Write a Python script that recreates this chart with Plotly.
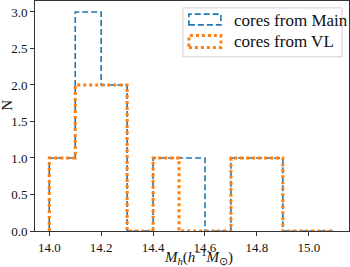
import plotly.graph_objects as go

bin_edges = [14.0, 14.1, 14.2, 14.3, 14.4, 14.5, 14.6, 14.7, 14.8, 14.9, 15.0, 15.1]
counts_main = [1, 3, 2, 0, 1, 1, 0, 1, 1, 0, 0]
counts_vl = [1, 2, 2, 0, 1, 0, 0, 1, 1, 0, 0]
series_names = ["cores from Main", "cores from VL"]
x_ticks = [14.0, 14.2, 14.4, 14.6, 14.8, 15.0]
y_ticks = [0.0, 0.5, 1.0, 1.5, 2.0, 2.5, 3.0]

BLUE = "#1f77b4"
ORANGE = "#ff7f0e"
blue_line = dict(color=BLUE, width=1.6, dash="6px,3px")
orange_line = dict(color=ORANGE, width=3, dash="3px,3px")


def step_xy(edges, counts):
    xs = [edges[0]] + list(edges)
    ys = [0] + list(counts) + [0]
    return xs, ys


fig = go.Figure()
xm, ym = step_xy(bin_edges, counts_main)
xv, yv = step_xy(bin_edges, counts_vl)
fig.add_trace(go.Scatter(x=xm, y=ym, mode="lines", line_shape="hv",
                         line=blue_line, name=series_names[0], showlegend=False))
fig.add_trace(go.Scatter(x=xv, y=yv, mode="lines", line_shape="hv",
                         line=orange_line, name=series_names[1], showlegend=False))

font = "Liberation Serif, Times New Roman, serif"
axis_common = dict(showgrid=False, zeroline=False, showline=True, mirror=True,
                   linecolor="#333", linewidth=1, ticks="outside", ticklen=4,
                   tickcolor="#333", automargin=False,
                   tickfont=dict(family=font, size=13, color="#111"))
fig.update_layout(
    width=350, height=267,
    margin=dict(l=35, r=1, t=1, b=36),
    paper_bgcolor="white", plot_bgcolor="white",
    font=dict(family=font, color="#111"),
    xaxis=dict(range=[13.945, 15.155], tickvals=x_ticks,
               ticktext=[f"{v:.1f}" for v in x_ticks], **axis_common),
    yaxis=dict(range=[0, 3.15], tickvals=y_ticks,
               ticktext=[f"{v:.1f}" for v in y_ticks], **axis_common),
    showlegend=False,
)

# custom legend (matplotlib-style patch outlines)
fig.add_shape(type="rect", xref="paper", yref="paper", x0=0.471, x1=0.978,
              y0=0.757, y1=0.970, line=dict(color="#d0d0d0", width=1),
              fillcolor="white", layer="above")
fig.add_shape(type="rect", xref="paper", yref="paper", x0=0.490, x1=0.592,
              y0=0.896, y1=0.943, line=blue_line, layer="above")
fig.add_shape(type="rect", xref="paper", yref="paper", x0=0.490, x1=0.592,
              y0=0.798, y1=0.850, line=orange_line, layer="above")
for name, yy in zip(series_names, [0.917, 0.822]):
    fig.add_annotation(text=name, xref="paper", yref="paper", x=0.628, y=yy,
                       xanchor="left", yanchor="middle", showarrow=False,
                       font=dict(family=font, size=17, color="#111"))

fig.add_annotation(text="<i>M</i><sub><i>h</i></sub>(<i>h</i><sup>−1</sup><i>M</i><sub>⊙</sub>)",
                   xref="paper", yref="paper", x=0.521, y=-0.113,
                   xanchor="center", yanchor="middle", showarrow=False,
                   font=dict(family=font, size=15, color="#111"))
fig.add_annotation(text="N", xref="paper", yref="paper", x=-0.089, y=0.545,
                   xanchor="center", yanchor="middle", textangle=-90, showarrow=False,
                   font=dict(family=font, size=15, color="#111"))
fig.write_html("out.html", config={"displayModeBar": False},
               post_script="document.body.style.margin='0px';")
